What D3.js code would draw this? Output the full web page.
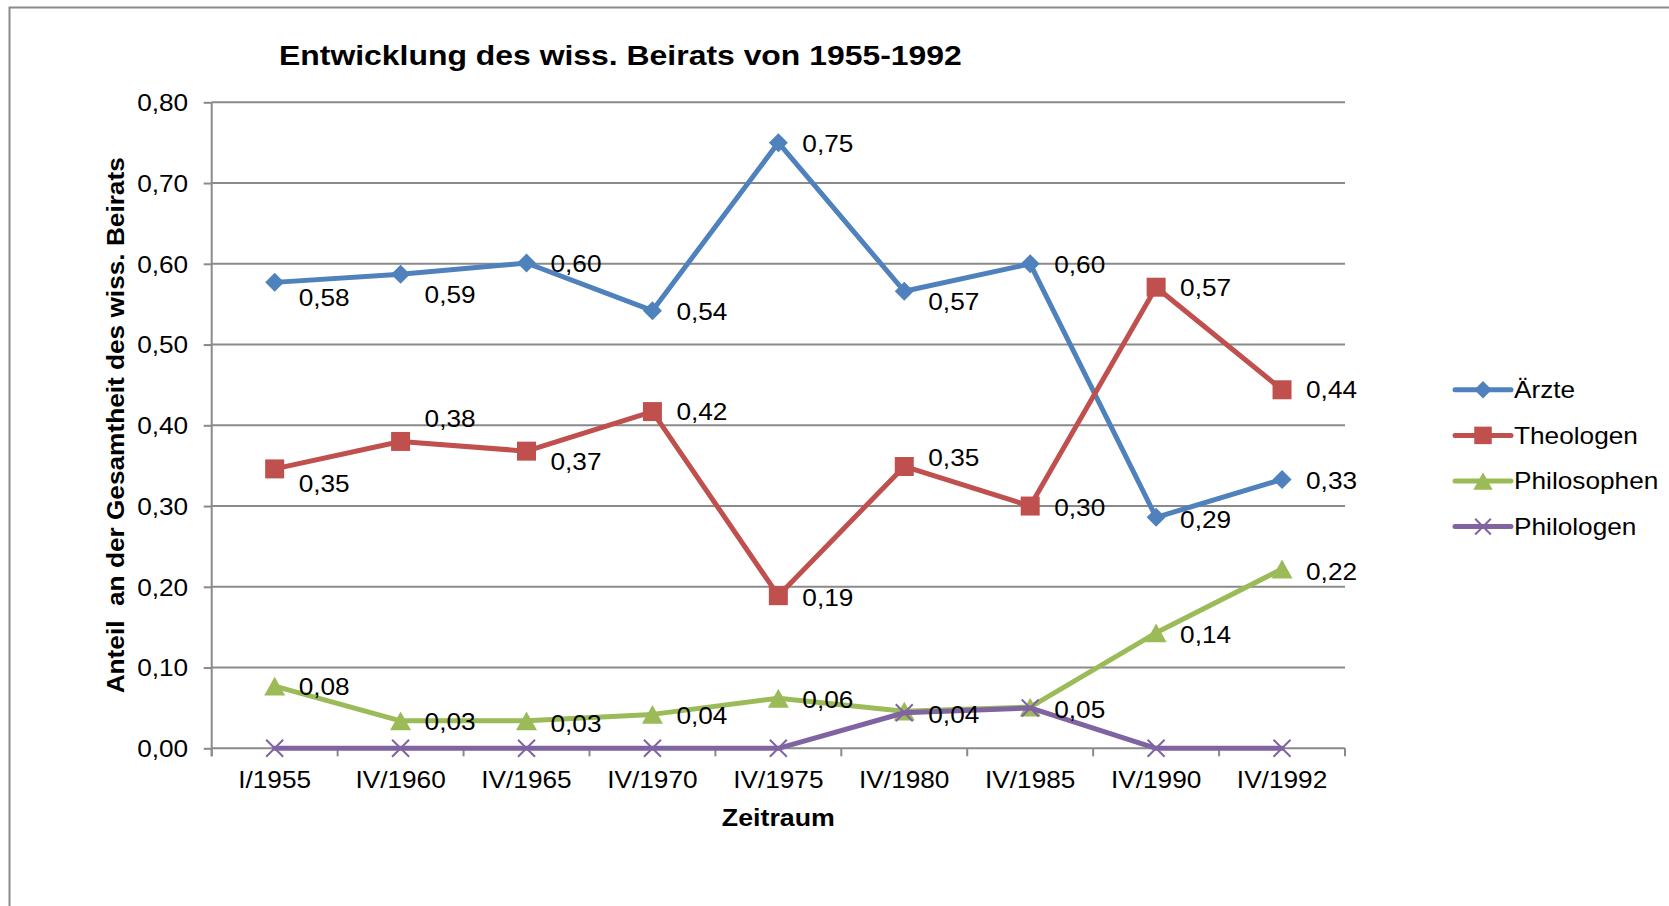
<!DOCTYPE html>
<html>
<head>
<meta charset="utf-8">
<script src="https://cdn.jsdelivr.net/npm/d3@7"></script>
<style>
  html, body { margin: 0; padding: 0; background: #fff; }
  svg { display: block; font-family: "Liberation Sans", Arial, sans-serif; }
</style>
</head>
<body>
<div id="chart"></div>
<script>
// Werte
const periods = ['I/1955', 'IV/1960', 'IV/1965', 'IV/1970', 'IV/1975', 'IV/1980', 'IV/1985', 'IV/1990', 'IV/1992'];
const aerzte = [0.577, 0.587, 0.601, 0.542, 0.750, 0.566, 0.600, 0.286, 0.333];
const theologen = [0.346, 0.380, 0.368, 0.417, 0.189, 0.349, 0.300, 0.571, 0.444];
const philosophen = [0.077, 0.034, 0.034, 0.042, 0.062, 0.046, 0.051, 0.143, 0.222];
const philologen = [0, 0, 0, 0, 0, 0.044, 0.050, 0, 0];
const yTicks = [0, 0.1, 0.2, 0.3, 0.4, 0.5, 0.6, 0.7, 0.8];

// vertikale Verschiebung der Datenbeschriftungen (null = keine Beschriftung)
const nudgeAerzte = [15, 20, 1, 1, 1, 10, 1, 2, 1];
const nudgeTheologen = [15, -23, 10, 0, 2, -9, 1, 0, 0];
const nudgePhilosophen = [0, 1, 3, 1, 1, null, null, 2, 2];
const nudgePhilologen = [null, null, null, null, null, 2, 2, null, null];

const W = 1669, H = 906;
const SX = 1.14; // Text ist im Original etwas breiter
const pLeft = 211.7, pRight = 1345, pTop = 102.3, pBottom = 748.3;
const grey = '#8a8a8a';

const fmt = d => d3.format('.2f')(d).replace('.', ',');

const diamond = { draw(ctx, size) { const r = Math.sqrt(size) / 2; ctx.moveTo(0, -r); ctx.lineTo(r, 0); ctx.lineTo(0, r); ctx.lineTo(-r, 0); ctx.closePath(); } };
const square = { draw(ctx, size) { const r = Math.sqrt(size) / 2; ctx.rect(-r, -r, 2 * r, 2 * r); } };
const triangle = { draw(ctx, size) { const r = Math.sqrt(size) / 2; ctx.moveTo(0, -r * 0.9); ctx.lineTo(r, r * 0.9); ctx.lineTo(-r, r * 0.9); ctx.closePath(); } };
const cross = { draw(ctx, size) { const r = Math.sqrt(size) / 2; ctx.moveTo(-r, -r); ctx.lineTo(r, r); ctx.moveTo(r, -r); ctx.lineTo(-r, r); } };

const series = [
  { name: 'Ärzte', values: aerzte, nudge: nudgeAerzte, color: '#4f81bd', symbol: diamond, size: 19 * 19, filled: true },
  { name: 'Theologen', values: theologen, nudge: nudgeTheologen, color: '#c0504d', symbol: square, size: 19 * 19, filled: true },
  { name: 'Philosophen', values: philosophen, nudge: nudgePhilosophen, color: '#9bbb59', symbol: triangle, size: 21 * 21, filled: true },
  { name: 'Philologen', values: philologen, nudge: nudgePhilologen, color: '#8064a2', symbol: cross, size: 17 * 17, filled: false }
];

const svg = d3.select('#chart').append('svg')
  .attr('width', W)
  .attr('height', H);

// Rahmen
svg.append('rect')
  .attr('x', 9.5).attr('y', 7.5)
  .attr('width', W + 20).attr('height', H + 20)
  .attr('fill', 'none').attr('stroke', grey).attr('stroke-width', 2);

const x = d3.scaleBand().domain(periods).range([pLeft, pRight]);
const y = d3.scaleLinear().domain([0, 0.8]).range([pBottom, pTop]);

// Gitternetz
svg.append('g').selectAll('line')
  .data(yTicks)
  .join('line')
  .attr('x1', pLeft).attr('x2', pRight)
  .attr('y1', d => y(d)).attr('y2', d => y(d))
  .attr('stroke', grey).attr('stroke-width', 2);

// y-Achse
svg.append('g')
  .attr('transform', `translate(${pLeft},0)`)
  .call(d3.axisLeft(y).tickValues(yTicks).tickFormat(fmt).tickSize(8).tickSizeOuter(0))
  .call(g => g.select('.domain').remove())
  .call(g => g.selectAll('.tick line').attr('stroke', grey).attr('stroke-width', 2))
  .call(g => g.selectAll('.tick text')
    .attr('x', null).attr('dy', null)
    .attr('fill', '#000')
    .attr('font-size', 23)
    .attr('font-family', null)
    .attr('text-anchor', 'end')
    .attr('transform', `translate(-23.5,8.4) scale(${SX},1)`));

svg.append('line')
  .attr('x1', pLeft).attr('x2', pLeft)
  .attr('y1', pTop).attr('y2', pBottom + 8)
  .attr('stroke', grey).attr('stroke-width', 2);

// x-Achse
svg.append('g')
  .attr('transform', `translate(0,${pBottom})`)
  .call(d3.axisBottom(x).tickSize(0).tickSizeOuter(0))
  .call(g => g.select('.domain').remove())
  .call(g => g.selectAll('.tick text')
    .attr('y', null).attr('dy', null)
    .attr('fill', '#000')
    .attr('font-size', 23)
    .attr('font-family', null)
    .attr('transform', `translate(0,40) scale(${SX},1)`));

svg.append('g').selectAll('line')
  .data(periods.map(p => x(p)).concat([x.range()[1]]))
  .join('line')
  .attr('x1', d => d).attr('x2', d => d)
  .attr('y1', pBottom).attr('y2', pBottom + 8)
  .attr('stroke', grey).attr('stroke-width', 2);

// Titel
const textAt = (sel, tx, ty, rot) => sel.attr('transform', `translate(${tx},${ty})${rot ? ` rotate(${rot})` : ''} scale(${SX},1)`);

svg.append('text')
  .text('Entwicklung des wiss. Beirats von 1955-1992')
  .attr('font-size', 28).attr('font-weight', 'bold')
  .call(textAt, 279, 65);

svg.append('text')
  .text('Zeitraum')
  .attr('font-size', 23.5).attr('font-weight', 'bold')
  .attr('text-anchor', 'middle')
  .call(textAt, (pLeft + pRight) / 2, 826);

svg.append('text')
  .text('Anteil  an der Gesamtheit des wiss. Beirats')
  .attr('xml:space', 'preserve')
  .style('white-space', 'pre')
  .attr('font-size', 23).attr('font-weight', 'bold')
  .attr('text-anchor', 'middle')
  .call(textAt, 124, (pTop + pBottom) / 2, -90);

// Linien und Markierungen
const px = i => x(periods[i]) + x.bandwidth() / 2;

const line = d3.line()
  .x((d, i) => px(i))
  .y(d => y(d));

series.forEach(s => {
  const g = svg.append('g');
  g.append('path')
    .attr('d', line(s.values))
    .attr('fill', 'none')
    .attr('stroke', s.color)
    .attr('stroke-width', 5)
    .attr('stroke-linejoin', 'round')
    .attr('stroke-linecap', 'round');

  g.selectAll('path.m')
    .data(s.values)
    .join('path')
    .attr('class', 'm')
    .attr('transform', (d, i) => `translate(${px(i)},${y(d)})`)
    .attr('d', d3.symbol(s.symbol, s.size))
    .attr('fill', s.filled ? s.color : 'none')
    .attr('stroke', s.filled ? 'none' : s.color)
    .attr('stroke-width', 2);
});

// Datenbeschriftungen
series.forEach(s => {
  svg.append('g').selectAll('text')
    .data(s.values.map((v, i) => ({ v, i, n: s.nudge[i] })).filter(d => d.n !== null))
    .join('text')
    .text(d => fmt(d.v))
    .attr('font-size', 23)
    .attr('fill', '#000')
    .attr('transform', d => `translate(${px(d.i) + 24},${y(d.v) + d.n + 8.5}) scale(${SX},1)`);
});

// Legende
const legend = svg.append('g')
  .selectAll('g')
  .data(series)
  .join('g')
  .attr('transform', (d, i) => `translate(0,${389.8 + i * 45.6})`);

legend.append('line')
  .attr('x1', 1455).attr('x2', 1511)
  .attr('stroke', d => d.color)
  .attr('stroke-width', 5)
  .attr('stroke-linecap', 'round');

legend.append('path')
  .attr('transform', 'translate(1483,0)')
  .attr('d', d => d3.symbol(d.symbol, d.size * 0.85)())
  .attr('fill', d => d.filled ? d.color : 'none')
  .attr('stroke', d => d.filled ? 'none' : d.color)
  .attr('stroke-width', 2);

legend.append('text')
  .text(d => d.name)
  .attr('font-size', 23)
  .attr('fill', '#000')
  .attr('transform', `translate(1514,8.3) scale(${SX},1)`);
</script>
</body>
</html>
